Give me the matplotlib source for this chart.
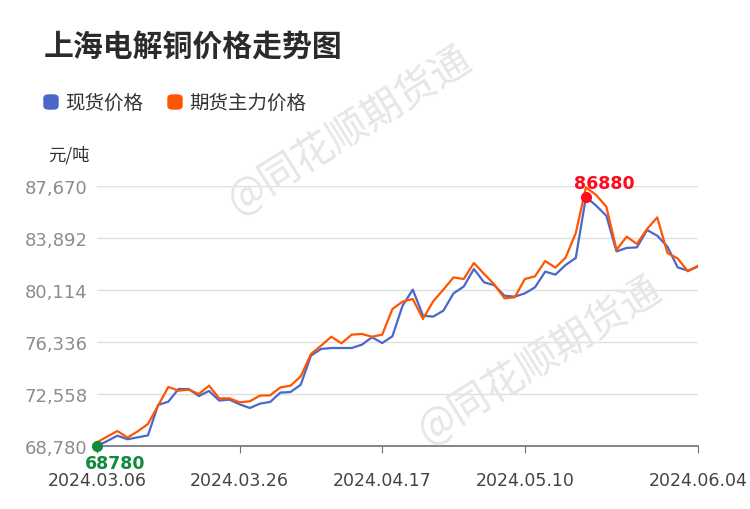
import matplotlib
matplotlib.use("Agg")
import matplotlib.pyplot as plt
from matplotlib.patches import FancyBboxPatch

# trading days shown on the category axis
dates = (
    ["2024.03.%s" % d for d in ["06", "07", "08", "11", "12", "13", "14", "15", "18", "19",
                                "20", "21", "22", "25", "26", "27", "28", "29"]]
    + ["2024.04.%s" % d for d in ["01", "02", "03", "08", "09", "10", "11", "12", "15", "16",
                                  "17", "18", "19", "22", "23", "24", "25", "26", "29", "30"]]
    + ["2024.05.%s" % d for d in ["06", "07", "08", "09", "10", "13", "14", "15", "16", "17",
                                  "20", "21", "22", "23", "24", "27", "28", "29", "30", "31"]]
    + ["2024.06.%s" % d for d in ["03", "04"]]
)

# 现货价格 (spot)
spot = [68780, 69140, 69530, 69270, 69410, 69550, 71760, 72000, 72920, 72920,
        72410, 72780, 72080, 72150, 71810, 71540, 71860, 71980, 72660, 72700,
        73230, 75340, 75830, 75900, 75900, 75900, 76140, 76680, 76260, 76750,
        78980, 80140, 78250, 78180, 78610, 79870, 80360, 81640, 80670, 80460,
        79700, 79630, 79870, 80310, 81450, 81230, 81930, 82440, 86880, 86240,
        85510, 82920, 83170, 83210, 84470, 84060, 83260, 81760, 81520, 81810]

# 期货主力价格 (main futures)
futures = [69050, 69460, 69870, 69390, 69850, 70380, 71710, 73070, 72800, 72870,
           72560, 73160, 72240, 72240, 71950, 72030, 72440, 72460, 73040, 73160,
           73840, 75460, 76070, 76720, 76240, 76870, 76920, 76720, 76870, 78730,
           79270, 79460, 78010, 79290, 80140, 81030, 80910, 82080, 81280, 80520,
           79510, 79580, 80910, 81110, 82220, 81740, 82460, 84250, 87570, 87020,
           86170, 83040, 83990, 83460, 84550, 85390, 82800, 82410, 81470, 81880]

y_ticks = [68780, 72558, 76336, 80114, 83892, 87670]
x_tick_idx = [0, 14, 28, 42, 59]

blue = "#4a67c9"
orange = "#ff5500"
cjk = ["Noto Sans CJK SC", "DejaVu Sans"]

fig = plt.figure(figsize=(7.5, 5.1), dpi=100)
ax = fig.add_axes([97 / 750, 63 / 510, 601 / 750, 260 / 510])

x = list(range(len(dates)))
ax.plot(x, spot, color=blue, lw=1.6, zorder=3)
ax.plot(x, futures, color=orange, lw=1.6, zorder=4)

ax.set_xlim(0, len(dates) - 1)
ax.set_ylim(y_ticks[0], y_ticks[-1])
ax.set_yticks(y_ticks)
ax.set_yticklabels(["{:,}".format(v) for v in y_ticks])
ax.set_xticks(x_tick_idx)
ax.set_xticklabels([dates[i] for i in x_tick_idx])

ax.grid(axis="y", color="#e0e0e0", lw=1)
ax.set_axisbelow(True)
for s in ["left", "right", "top"]:
    ax.spines[s].set_visible(False)
ax.spines["bottom"].set_color("#6e7079")
ax.spines["bottom"].set_linewidth(1.2)
ax.tick_params(axis="y", length=0, pad=7, labelsize=13, labelcolor="#8c8c8c")
ax.tick_params(axis="x", length=5, color="#6e7079", pad=13, labelsize=12.5, labelcolor="#444444")
for t in ax.get_yticklabels():
    t.set_clip_on(False)

# min / max markers on the spot series
imin = spot.index(min(spot))
imax = spot.index(max(spot))
ax.plot(imin, spot[imin], "o", color="#128a3c", ms=7, zorder=6, clip_on=False)
ax.annotate(str(spot[imin]), (imin, spot[imin]), xytext=(13, -12), textcoords="offset points",
            ha="center", va="center", color="#128a3c", fontsize=12.5, fontweight="bold",
            annotation_clip=False)
ax.plot(imax, spot[imax], "o", color="#ff0a1e", ms=7, zorder=6)
ax.annotate(str(spot[imax]), (imax, spot[imax]), xytext=(13, 10), textcoords="offset points",
            ha="center", va="center", color="#ff0a1e", fontsize=12.5, fontweight="bold",
            annotation_clip=False)

# watermarks
for cx, cy in [(350, 130), (540, 360)]:
    fig.text(cx / 750, 1 - cy / 510, "@同花顺期货通", family=cjk, fontsize=29, color="#e6e6e6",
             rotation=32, ha="center", va="center", zorder=0)

# title, legend, unit
fig.text(44 / 750, 1 - 48 / 510, "上海电解铜价格走势图", family=cjk, fontsize=21.5,
         fontweight="bold", color="#2b2b2b", va="center")
for x0, col, label in [(44, blue, "现货价格"), (168, orange, "期货主力价格")]:
    fig.patches.append(FancyBboxPatch((x0 / 750, 1 - 110 / 510), 14 / 750, 14 / 510,
                                      boxstyle="round,pad=0,rounding_size=0.006",
                                      transform=fig.transFigure, color=col, figure=fig))
    fig.text((x0 + 21) / 750, 1 - 103 / 510, label, family=cjk, fontsize=14,
             color="#333333", va="center")
fig.text(90 / 750, 1 - 155 / 510, "元/吨", family=cjk, fontsize=12.5, color="#333333",
         ha="right", va="center")

fig.savefig("out.png", dpi=100)
